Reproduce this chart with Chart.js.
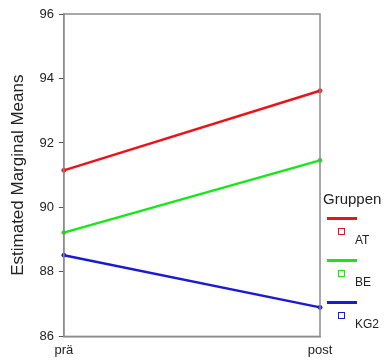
<!DOCTYPE html>
<html>
<head>
<meta charset="utf-8">
<script src="https://cdn.jsdelivr.net/npm/chart.js@4/dist/chart.umd.min.js"></script>
<style>
  html, body { margin: 0; padding: 0; background: #fff; }
  #wrap { position: relative; width: 391px; height: 363px; }
  #legend { position: absolute; left: 323px; top: 190px; font-family: "Liberation Sans", Arial, sans-serif; color: #222; }
  #legend .title { font-size: 15px; margin-bottom: 4px; }
  #legend .item { position: relative; height: 42px; }
  #legend .line { position: absolute; left: 4px; top: 6px; width: 30px; height: 3px; }
  #legend .box { position: absolute; left: 15px; top: 17px; width: 5px; height: 5px; border: 1px solid; }
  #legend .lab { position: absolute; left: 32px; top: 22px; font-size: 12px; }
</style>
</head>
<body>
<div id="wrap">
  <canvas id="meansChart" width="391" height="363"></canvas>
  <div id="legend"></div>
</div>
<script>
var zeitpunkte = ["prä", "post"];
var gruppen = ["AT", "BE", "KG2"];
var farben = ["#e8141b", "#19e619", "#1a1ad6"];
var werteAT = [91.15, 93.62];
var werteBE = [89.22, 91.46];
var werteKG2 = [88.52, 86.9];
var yTicks = [86, 88, 90, 92, 94, 96];

var reihen = [werteAT, werteBE, werteKG2];

var boxPlugin = {
  id: "boxPlugin",
  afterDraw: function (chart) {
    var a = chart.chartArea;
    var ctx = chart.ctx;
    ctx.save();
    ctx.strokeStyle = "#8c8c8c";
    ctx.lineWidth = 1.5;
    ctx.strokeRect(a.left, a.top, a.right - a.left, a.bottom - a.top);
    ctx.restore();
  }
};

function buildLegend() {
  var legend = document.getElementById("legend");
  var html = '<div class="title">Gruppen</div>';
  for (var i = 0; i < gruppen.length; i++) {
    html += '<div class="item">' +
      '<div class="line" style="background:' + farben[i] + '"></div>' +
      '<div class="box" style="border-color:' + farben[i] + '"></div>' +
      '<div class="lab">' + gruppen[i] + '</div></div>';
  }
  legend.innerHTML = html;
}

function initializeChart() {
  var ctx = document.getElementById("meansChart");
  new Chart(ctx, {
    type: "line",
    data: {
      labels: zeitpunkte,
      datasets: reihen.map(function (werte, i) {
        return {
          label: gruppen[i],
          data: werte,
          borderColor: farben[i],
          backgroundColor: farben[i],
          borderWidth: 2.5,
          pointRadius: 2,
          pointBorderWidth: 1,
          tension: 0
        };
      })
    },
    options: {
      responsive: false,
      animation: false,
      layout: { padding: { top: 14, right: 71, bottom: 3, left: 8 } },
      plugins: { legend: { display: false }, tooltip: { enabled: false } },
      scales: {
        x: {
          type: "category",
          offset: false,
          grid: { display: false, drawTicks: true, tickLength: 4, color: "#555" },
          border: { color: "#8c8c8c", width: 1.5 },
          ticks: { color: "#222", font: { family: "Liberation Sans", size: 13 }, padding: 2, maxRotation: 0 }
        },
        y: {
          min: 86,
          max: 96,
          afterBuildTicks: function (axis) {
            axis.ticks = yTicks.map(function (v) { return { value: v }; });
          },
          grid: { drawOnChartArea: false, drawTicks: true, tickLength: 5, color: "#555" },
          border: { color: "#8c8c8c", width: 1.5 },
          ticks: { color: "#222", font: { family: "Liberation Sans", size: 13 }, padding: 5 },
          title: {
            display: true,
            text: "Estimated Marginal Means",
            color: "#222",
            font: { family: "Liberation Sans", size: 17 },
            padding: { top: 0, bottom: 6 }
          }
        }
      }
    },
    plugins: [boxPlugin]
  });
}

window.onload = function () {
  buildLegend();
  initializeChart();
};
</script>
</body>
</html>
